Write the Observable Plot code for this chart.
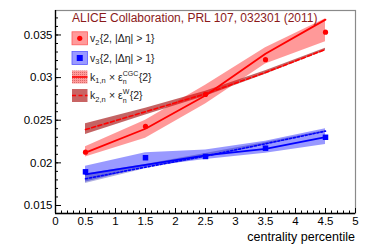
<!DOCTYPE html>
<html><head><meta charset="utf-8">
<script src="https://cdn.jsdelivr.net/npm/d3@7"></script>
<script src="https://cdn.jsdelivr.net/npm/@observablehq/plot@0.6"></script>
<style>
body{margin:0;background:#fff;}
#chart svg{font-family:"Liberation Sans",Arial,sans-serif;}
</style>
</head><body><div id="chart"></div>
<script>
// ---- data ----
const cent = [0.5, 1.5, 2.5, 3.5, 4.5];
const v2Data = [0.02125, 0.02427, 0.02803, 0.0321, 0.03533];
const v3Data = [0.01895, 0.0206, 0.02075, 0.02172, 0.0230];
// red: k1 x eps CGC (solid) with pink band
const v2Cgc   = [0.0212, 0.0240, 0.0279, 0.0328, 0.0368];
const v2CgcLo = [0.0207, 0.0229, 0.0269, 0.0316, 0.0342];
const v2CgcHi = [0.0219, 0.0250, 0.0291, 0.0335, 0.0369];
// red: k2 x eps W (dashed) with dark band
const v2W   = [0.0239, 0.0260, 0.0281, 0.0306, 0.0333];
const v2WLo = [0.02333, 0.0256, 0.0278, 0.0304, 0.03315];
const v2WHi = [0.02459, 0.0264, 0.0284, 0.0308, 0.03345];
// blue: solid with light band
const v3Cgc   = [0.01864, 0.01977, 0.02087, 0.02165, 0.02301];
const v3CgcLo = [0.01773, 0.0195, 0.0204, 0.02113, 0.02216];
const v3CgcHi = [0.01961, 0.02118, 0.0215, 0.02254, 0.0240];
// blue: dotted with darker band
const v3W   = [0.01813, 0.0195, 0.0208, 0.02224, 0.02372];
const v3WLo = [0.01758, 0.0193, 0.0206, 0.0221, 0.0236];
const v3WHi = [0.0187, 0.0198, 0.0211, 0.0224, 0.0238];
// ticks
const xMajor = [0, 0.5, 1, 1.5, 2, 2.5, 3, 3.5, 4, 4.5, 5];
const xMinor = d3.range(0, 51).map(d => d / 10);
const yMajor = [0.015, 0.02, 0.025, 0.03, 0.035];
const yMinor = d3.range(15, 38).map(d => d / 1000);
const yDomain = [0.01406, 0.03787];

const rows = cent.map((c, i) => ({
  c, v2: v2Data[i], v3: v3Data[i],
  rc: v2Cgc[i], rcLo: v2CgcLo[i], rcHi: v2CgcHi[i],
  rw: v2W[i], rwLo: v2WLo[i], rwHi: v2WHi[i],
  bc: v3Cgc[i], bcLo: v3CgcLo[i], bcHi: v3CgcHi[i],
  bw: v3W[i], bwLo: v3WLo[i], bwHi: v3WHi[i]
}));

const chart = Plot.plot({
  width: 371, height: 251,
  marginLeft: 55, marginRight: 16, marginTop: 10, marginBottom: 38,
  style: {fontFamily: "'Liberation Sans', Arial, sans-serif", fontSize: "11.5px", color: "#000", background: "#fff"},
  x: {domain: [0, 5]},
  y: {domain: yDomain},
  marks: [
    // blue
    Plot.areaY(rows, {x: "c", y1: "bcLo", y2: "bcHi", fill: "#0000ff", fillOpacity: 0.4}),
    Plot.areaY(rows, {x: "c", y1: "bwLo", y2: "bwHi", fill: "#000099", fillOpacity: 0.3}),
    Plot.line(rows, {x: "c", y: "bw", stroke: "#0000ff", strokeWidth: 1.6, strokeDasharray: "2,2"}),
    Plot.line(rows, {x: "c", y: "bc", stroke: "#0000ff", strokeWidth: 1.8}),
    Plot.dot(rows, {x: "c", y: "v3", symbol: "square", r: 3.1, fill: "#0000ff"}),
    // red
    Plot.areaY(rows, {x: "c", y1: "rwLo", y2: "rwHi", fill: "#b03030", fillOpacity: 0.75}),
    Plot.areaY(rows, {x: "c", y1: "rcLo", y2: "rcHi", fill: "#ff0000", fillOpacity: 0.4}),
    Plot.line(rows, {x: "c", y: "rw", stroke: "#ff0000", strokeWidth: 1.6, strokeDasharray: "4,2.5"}),
    Plot.line(rows, {x: "c", y: "rc", stroke: "#ff0000", strokeWidth: 1.8}),
    Plot.dot(rows, {x: "c", y: "v2", r: 2.6, fill: "#ff0000"}),
    // frame & axes
    Plot.frame({stroke: "#8a8a8a", strokeWidth: 1.2}),
    Plot.axisX(xMinor, {tickSize: -2.5, fill: "none", label: null, stroke: "#000"}),
    Plot.axisX(xMajor, {tickSize: -5, fill: "none", label: null, stroke: "#000"}),
    Plot.axisX(xMajor, {tickSize: 0, tickPadding: 3, label: null, tickFormat: d => String(d), fontSize: 11.5}),
    Plot.axisY(yMinor, {tickSize: -3, fill: "none", label: null, stroke: "#000"}),
    Plot.axisY(yMajor, {tickSize: -6, fill: "none", label: null, stroke: "#000"}),
    Plot.axisY(yMajor, {tickSize: 0, tickPadding: 3, label: null, tickFormat: d => String(+d.toFixed(3)), fontSize: 11.5}),
    Plot.ruleX([0], {stroke: "#000", strokeWidth: 1.3}),
    Plot.ruleY([yDomain[0]], {stroke: "#000", strokeWidth: 1.3})
  ]
});
document.getElementById("chart").append(chart);

// ---- overlay text / legend ----
const svg = d3.select(chart);
const g = svg.append("g")
  .attr("font-family", "'Liberation Sans', Arial, sans-serif")
  .attr("text-anchor", "start");
g.append("text").attr("x", 355).attr("y", 241).attr("text-anchor", "end")
  .attr("font-size", 12.5).attr("fill", "#000").text("centrality percentile");
g.append("text").attr("x", 72).attr("y", 22).attr("font-size", 12).attr("fill", "#8b1a1a")
  .attr("text-anchor", "start")
  .text("ALICE Collaboration, PRL 107, 032301 (2011)");

const defs = svg.append("defs");
const pat = defs.append("pattern").attr("id", "dots").attr("width", 2).attr("height", 2)
  .attr("patternUnits", "userSpaceOnUse");
pat.append("rect").attr("width", 2).attr("height", 2).attr("fill", "#ff9a9a");
pat.append("rect").attr("width", 1).attr("height", 1).attr("fill", "#d86a6a");

const bx = 72, bw = 15.5, bh = 13;
const tx = 90;
function entry(y, fill, stroke) {
  g.append("rect").attr("x", bx).attr("y", y - bh / 2).attr("width", bw).attr("height", bh)
    .attr("fill", fill).attr("stroke", stroke).attr("stroke-width", 0.8);
}
function label(y, pieces) {
  let x = tx;
  const base = y + 3.8;
  const put = (s, size, yy) => {
    const t = g.append("text").attr("x", x).attr("y", yy).attr("font-size", size)
      .attr("fill", "#222").attr("text-anchor", "start").text(s);
    return t.node().getComputedTextLength();
  };
  pieces.forEach(p => {
    if (p[1] === "") x += put(p[0], 10.5, base);
    else if (p[1] === "sub") x += put(p[0], 7.5, base + 2.6) + 0.3;
    else if (p[1] === "stack") {
      const w1 = put(p[0], 7, base + 3.2);
      const w2 = put(p[2], 7, base - 5);
      x += Math.max(w1, w2) + 0.5;
    }
  });
}
// 1
entry(38.3, "#ff9a9a", "#ff5a5a");
g.append("circle").attr("cx", bx + bw / 2).attr("cy", 38.3).attr("r", 2.6).attr("fill", "#ff0000");
label(38.3, [["v", ""], ["2", "sub"], ["{2, |Δη| > 1}", ""]]);
// 2
entry(58, "#9a9aff", "#5a5aff");
g.append("rect").attr("x", bx + bw / 2 - 3).attr("y", 55).attr("width", 6).attr("height", 6).attr("fill", "#0000ff");
label(58, [["v", ""], ["3", "sub"], ["{2, |Δη| > 1}", ""]]);
// 3
entry(77, "url(#dots)", "none");
g.append("line").attr("x1", bx).attr("x2", bx + bw).attr("y1", 77).attr("y2", 77).attr("stroke", "#ff0000").attr("stroke-width", 1.6);
label(77, [["k", ""], ["1,n", "sub"], [" × ε", ""], ["n", "stack", "CGC"], ["{2}", ""]]);
// 4
entry(95.5, "#c86464", "none");
g.append("line").attr("x1", bx).attr("x2", bx + bw).attr("y1", 95.5).attr("y2", 95.5).attr("stroke", "#ff0000").attr("stroke-width", 1.6).attr("stroke-dasharray", "4,2.5");
label(95.5, [["k", ""], ["2,n", "sub"], [" × ε", ""], ["n", "stack", "W"], ["{2}", ""]]);
</script>
</body></html>
